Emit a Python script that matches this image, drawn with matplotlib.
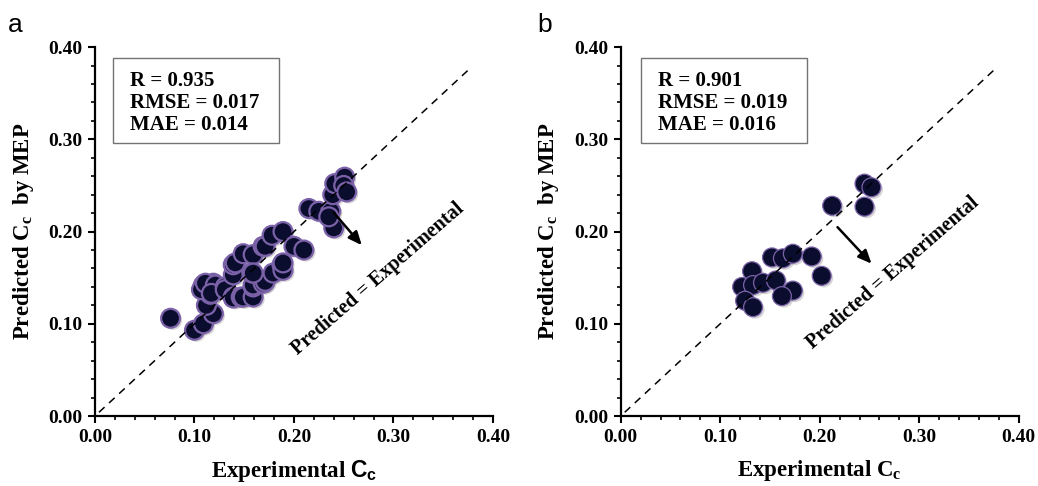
import matplotlib
matplotlib.use("Agg")
import matplotlib.pyplot as plt
import matplotlib.patheffects as pe
from matplotlib.patches import Rectangle
from matplotlib.ticker import MultipleLocator, FormatStrFormatter

# Panel a: experimental vs predicted Cc (training set)
exp_a = [0.076, 0.100, 0.109, 0.119, 0.112, 0.109, 0.119, 0.116, 0.107, 0.111,
         0.121, 0.117, 0.131, 0.131, 0.139, 0.139, 0.147, 0.149, 0.159, 0.139,
         0.139, 0.141, 0.149, 0.159, 0.159, 0.159, 0.169, 0.171, 0.158, 0.159,
         0.169, 0.171, 0.179, 0.188, 0.189, 0.189, 0.178, 0.189, 0.200, 0.210,
         0.215, 0.225, 0.237, 0.240, 0.239, 0.241, 0.251, 0.250, 0.253, 0.235]
pred_a = [0.106, 0.093, 0.100, 0.111, 0.120, 0.142, 0.144, 0.132, 0.137, 0.144,
          0.142, 0.133, 0.140, 0.137, 0.129, 0.128, 0.129, 0.129, 0.129, 0.153,
          0.164, 0.166, 0.176, 0.175, 0.140, 0.142, 0.144, 0.146, 0.155, 0.155,
          0.184, 0.184, 0.155, 0.164, 0.158, 0.166, 0.196, 0.200, 0.184, 0.180,
          0.225, 0.222, 0.222, 0.204, 0.240, 0.252, 0.259, 0.250, 0.243, 0.216]

# Panel b: testing set
exp_b = [0.245, 0.252, 0.2125, 0.245, 0.152, 0.163, 0.173, 0.192, 0.132, 0.202,
         0.122, 0.133, 0.143, 0.156, 0.173, 0.162, 0.125, 0.133]
pred_b = [0.252, 0.248, 0.228, 0.227, 0.172, 0.171, 0.176, 0.173, 0.157, 0.152,
          0.140, 0.142, 0.1445, 0.147, 0.136, 0.130, 0.125, 0.118]

stats_a = ["R = 0.935", "RMSE = 0.017", "MAE = 0.014"]
stats_b = ["R = 0.901", "RMSE = 0.019", "MAE = 0.016"]

plt.rcParams["font.family"] = "Liberation Serif"
plt.rcParams["font.weight"] = "bold"
plt.rcParams["axes.labelweight"] = "bold"
plt.rcParams["mathtext.fontset"] = "custom"
plt.rcParams["mathtext.rm"] = "Liberation Serif:bold"
plt.rcParams["mathtext.it"] = "Liberation Serif:bold"
plt.rcParams["mathtext.bf"] = "Liberation Serif:bold"
plt.rcParams["mathtext.sf"] = "Liberation Sans:bold"

fig = plt.figure(figsize=(10.38, 4.86), dpi=100)
ax_a = fig.add_axes([0.0915, 0.144, 0.3834, 0.759])
ax_b = fig.add_axes([0.598, 0.144, 0.3834, 0.759])

FILL = "#0b0d2e"
EDGE = "#7b62a8"


def setup(ax, xs, ys, edge_lw, stats, xlabel, arrow, text_xy, box_x, text_x):
    ax.plot([0.004, 0.375], [0.004, 0.375], color="black", lw=1.1,
            linestyle=(0, (5, 4)), zorder=3)
    sc = ax.scatter(xs, ys, s=185, facecolor=FILL, edgecolor=EDGE,
                    linewidths=edge_lw, zorder=2)
    sc.set_path_effects([pe.SimplePatchShadow(offset=(1.5, -1.5),
                                              shadow_rgbFace="0.55", alpha=0.35),
                         pe.Normal()])
    ax.set_xlim(0, 0.4)
    ax.set_ylim(0, 0.4)
    for s in ["top", "right"]:
        ax.spines[s].set_visible(False)
    for s in ["left", "bottom"]:
        ax.spines[s].set_linewidth(1.6)
    ax.xaxis.set_major_locator(MultipleLocator(0.1))
    ax.yaxis.set_major_locator(MultipleLocator(0.1))
    ax.xaxis.set_minor_locator(MultipleLocator(0.02))
    ax.yaxis.set_minor_locator(MultipleLocator(0.02))
    ax.xaxis.set_major_formatter(FormatStrFormatter("%.2f"))
    ax.yaxis.set_major_formatter(FormatStrFormatter("%.2f"))
    ax.tick_params(which="major", length=5, width=1.5, labelsize=14, pad=4)
    ax.tick_params(which="minor", length=3, width=1.2)
    ax.set_xlabel(xlabel, fontsize=16.5, labelpad=9)
    ax.set_ylabel("Predicted C$_c$  by MEP", fontsize=16.5, labelpad=9)
    # stats box
    ax.add_patch(Rectangle((box_x, 0.740), 0.418, 0.230, transform=ax.transAxes,
                           facecolor="white", edgecolor="0.45", lw=1.0,
                           zorder=4, clip_on=False))
    ax.text(text_x, 0.935, "\n".join(stats), transform=ax.transAxes,
            fontsize=15, va="top", ha="left", linespacing=1.12, zorder=5)
    ax.annotate("", xy=arrow[1], xytext=arrow[0],
                arrowprops=dict(arrowstyle="-|>,head_length=0.8,head_width=0.35",
                                color="black", lw=1.8))
    ax.text(text_xy[0], text_xy[1], "Predicted = Experimental", fontsize=14.5,
            rotation=41, ha="center", va="center")


setup(ax_a, exp_a, pred_a, 1.6, stats_a, "Experimental $\\mathsf{C_c}$",
      ((0.238, 0.223), (0.270, 0.183)), (0.284, 0.149), 0.045, 0.088)
setup(ax_b, exp_b, pred_b, 0.9, stats_b, "Experimental C$_c$",
      ((0.216, 0.207), (0.254, 0.163)), (0.274, 0.155), 0.050, 0.093)

fig.text(0.008, 0.935, "a", fontsize=19, family="Liberation Sans", weight="normal")
fig.text(0.518, 0.935, "b", fontsize=19, family="Liberation Sans", weight="normal")

fig.savefig("out.png", dpi=100)
